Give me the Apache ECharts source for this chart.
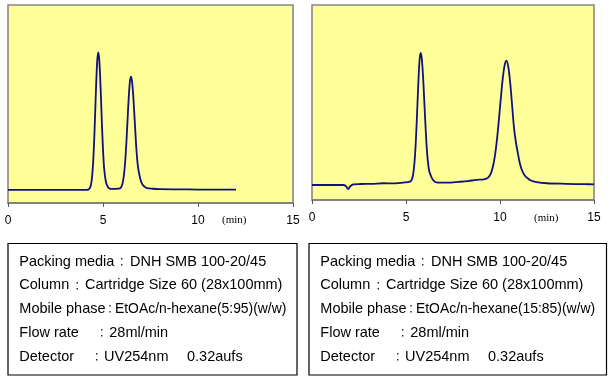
<!DOCTYPE html>
<html>
<head>
<meta charset="utf-8">
<script src="https://cdn.jsdelivr.net/npm/echarts@6/dist/echarts.min.js"></script>
<style>
html,body{margin:0;padding:0;background:#fff;}
#c{width:610px;height:381px;}
</style>
</head>
<body>
<div id="c"></div>
<script>
// ---- data ----
const xTicks = [0, 5, 10, 15];
const timeUnit = '(min)';

const leftTime = [0, 1, 2, 3, 3.6, 4.0, 4.2, 4.25, 4.3, 4.35, 4.4, 4.45, 4.5, 4.55, 4.6, 4.65, 4.7, 4.75, 4.8, 4.85, 4.9, 4.95, 5.0, 5.05, 5.1, 5.15, 5.2, 5.25, 5.3, 5.35, 5.45, 5.55, 5.65, 5.75, 5.85, 5.92, 5.97, 6.02, 6.07, 6.12, 6.17, 6.22, 6.27, 6.32, 6.37, 6.42, 6.47, 6.52, 6.57, 6.62, 6.67, 6.72, 6.77, 6.82, 6.87, 6.92, 6.97, 7.02, 7.07, 7.17, 7.32, 7.6, 8, 9, 10, 11, 12];
const leftSignal = [6.6, 6.6, 6.6, 6.6, 6.6, 6.6, 6.7, 6.9, 7.4, 8.6, 11.2, 16.0, 23.9, 35.2, 48.8, 62.3, 72.3, 76.1, 72.8, 63.8, 51.4, 38.4, 27.1, 18.6, 14.0, 11.0, 9.2, 8.2, 7.6, 7.3, 7.1, 7.1, 7.1, 7.2, 7.3, 7.6, 8.3, 9.6, 11.9, 15.7, 21.2, 28.7, 37.7, 47.2, 55.7, 61.6, 63.8, 62.0, 57.1, 49.9, 41.5, 33.1, 25.5, 20.0, 16.5, 14.0, 12.0, 10.5, 9.5, 8.3, 7.5, 7.2, 7.0, 6.9, 6.8, 6.8, 6.8];

const rightTime = [0, 1, 1.65, 1.8, 1.92, 2.05, 2.2, 2.6, 3.2, 3.8, 4.3, 4.7, 4.9, 5.18, 5.28, 5.33, 5.38, 5.43, 5.48, 5.53, 5.58, 5.63, 5.68, 5.73, 5.78, 5.83, 5.88, 5.93, 5.98, 6.03, 6.08, 6.13, 6.18, 6.23, 6.28, 6.33, 6.38, 6.48, 6.63, 6.8, 7.2, 7.8, 8.3, 8.74, 9.14, 9.34, 9.44, 9.54, 9.64, 9.74, 9.84, 9.94, 10.04, 10.14, 10.24, 10.34, 10.44, 10.54, 10.64, 10.74, 10.84, 10.94, 11.04, 11.14, 11.24, 11.34, 11.49, 11.64, 11.94, 12.5, 13.5, 14.5, 15];
const rightSignal = [7.7, 7.7, 7.7, 7.2, 5.6, 7.2, 8.0, 8.2, 8.3, 8.6, 8.5, 8.8, 9.0, 9.3, 9.9, 11.0, 13.2, 17.0, 23.0, 31.5, 42.3, 54.1, 64.9, 72.7, 75.5, 73.4, 67.6, 59.2, 49.3, 39.4, 30.5, 23.3, 18.5, 15.0, 13.5, 12.3, 11.2, 9.8, 9.0, 8.9, 8.9, 9.3, 9.7, 10.3, 10.6, 11.3, 12.3, 14.3, 17.8, 23.3, 31.1, 41.0, 51.7, 61.7, 68.8, 71.4, 68.4, 60.3, 49.1, 37.5, 30.0, 24.5, 19.5, 16.0, 13.8, 12.3, 11.0, 10.0, 9.2, 8.6, 8.3, 8.1, 8.05];

const infoLabels = ['Packing media', 'Column', 'Mobile phase', 'Flow rate', 'Detector'];
const leftValues  = ['DNH SMB 100-20/45', 'Cartridge Size 60 (28x100mm)', 'EtOAc/n-hexane(5:95)(w/w)', '28ml/min', 'UV254nm\u3000 0.32aufs'];
const rightValues = ['DNH SMB 100-20/45', 'Cartridge Size 60 (28x100mm)', 'EtOAc/n-hexane(15:85)(w/w)', '28ml/min', 'UV254nm\u3000 0.32aufs'];
const separator = '：';

// ---- layout (pixels, relative to each box) ----
const colonX = [113.7, 69.3, 102, 93.7, 88.7];
const valueX = [122, 77, 107, 101.3, 96];
const valueSize = [14.5, 14.5, 13.9, 14.5, 14.5];

const pairs = (t, v) => t.map((x, i) => [x, v[i]]);
const FONT = '"Liberation Sans", Arial, "Noto Sans CJK JP", sans-serif';

function xAx(gi, margin) {
  return {
    type: 'value', gridIndex: gi, min: xTicks[0], max: xTicks[xTicks.length - 1], interval: 5,
    axisLine: {show: true, lineStyle: {color: '#777', width: 1.5}},
    axisTick: {show: true, length: 4, lineStyle: {color: '#555'}},
    axisLabel: {color: '#000', fontSize: 12, fontFamily: FONT, margin: margin},
    splitLine: {show: false}
  };
}
function yAx(gi) {
  return {type: 'value', gridIndex: gi, min: 0, max: 100, show: false};
}
const gridStyle = {show: true, backgroundColor: '#FFFF99', borderColor: '#888', borderWidth: 1.6};

function infoBox(x, y, w, h, values) {
  const children = [{
    type: 'rect', shape: {x: x, y: y, width: w, height: h},
    style: {fill: '#fff', stroke: '#000', lineWidth: 1.2}
  }];
  infoLabels.forEach((lab, i) => {
    const cy = y + 18.2 + i * 23.75;
    children.push({type: 'text', x: x + 11.3, y: cy,
      style: {text: lab, fill: '#000', font: '14.5px ' + FONT, textVerticalAlign: 'middle'}});
    children.push({type: 'text', x: x + colonX[i], y: cy,
      style: {text: separator, fill: '#000', font: '11px "Noto Sans CJK JP", sans-serif', textAlign: 'center', textVerticalAlign: 'middle'}});
    children.push({type: 'text', x: x + valueX[i], y: cy,
      style: {text: values[i], fill: '#000', font: valueSize[i] + 'px ' + FONT, textVerticalAlign: 'middle'}});
  });
  return {type: 'group', children: children};
}

const chart = echarts.init(document.getElementById('c'), null, {renderer: 'canvas'});
chart.setOption({
  animation: false,
  backgroundColor: '#fff',
  grid: [
    Object.assign({left: 8, top: 5, width: 285, height: 198}, gridStyle),
    Object.assign({left: 312, top: 5, width: 282, height: 195}, gridStyle)
  ],
  xAxis: [xAx(0, 12), xAx(1, 12)],
  yAxis: [yAx(0), yAx(1)],
  series: [
    {type: 'line', xAxisIndex: 0, yAxisIndex: 0, data: pairs(leftTime, leftSignal), smooth: 0.3,
     showSymbol: false, lineStyle: {color: '#101080', width: 1.8}},
    {type: 'line', xAxisIndex: 1, yAxisIndex: 1, data: pairs(rightTime, rightSignal), smooth: 0.3,
     showSymbol: false, lineStyle: {color: '#101080', width: 1.8}}
  ],
  graphic: [
    {type: 'text', x: 222, y: 220, style: {text: timeUnit, fill: '#000', font: '11px "Liberation Serif", serif', textVerticalAlign: 'middle'}},
    {type: 'text', x: 534, y: 218, style: {text: timeUnit, fill: '#000', font: '11px "Liberation Serif", serif', textVerticalAlign: 'middle'}},
    infoBox(8, 243.5, 289, 131.5, leftValues),
    infoBox(309, 243.5, 297.5, 131.5, rightValues)
  ]
});
</script>
</body>
</html>
